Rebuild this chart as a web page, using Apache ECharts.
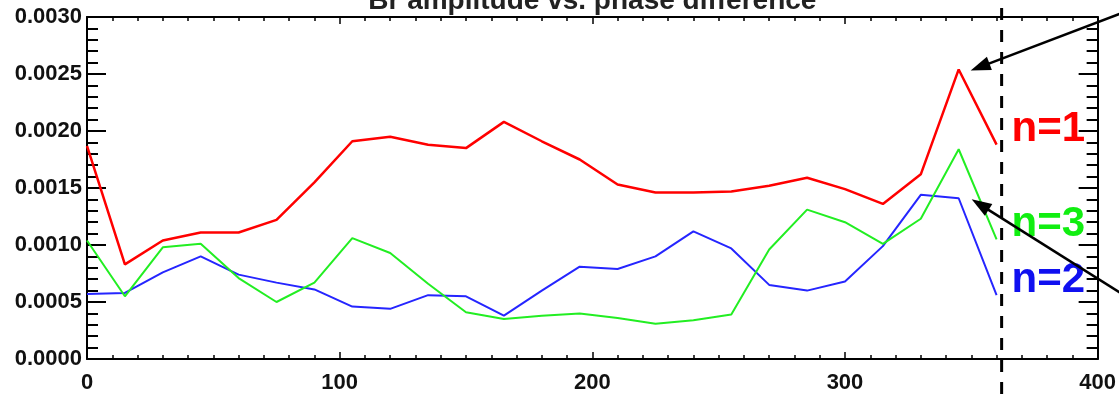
<!DOCTYPE html>
<html>
<head>
<meta charset="utf-8">
<script src="https://cdn.jsdelivr.net/npm/echarts@6/dist/echarts.min.js"></script>
<style>
html,body{margin:0;padding:0;background:#fff;}
#chart{width:1119px;height:394px;}
</style>
</head>
<body>
<div id="chart"></div>
<script>
// Phase difference (degrees)
const phase = [0, 15, 30, 45, 60, 75, 90, 105, 120, 135, 150, 165, 180, 195, 210, 225, 240, 255, 270, 285, 300, 315, 330, 345, 360];
// Br amplitude, n=1
const n1 = [0.00187, 0.00083, 0.00104, 0.00111, 0.00111, 0.00122, 0.00155, 0.00191, 0.00195, 0.00188, 0.00185, 0.00208, 0.00191, 0.00175, 0.00153, 0.00146, 0.00146, 0.00147, 0.00152, 0.00159, 0.00149, 0.00136, 0.00162, 0.00254, 0.00188];
// Br amplitude, n=2
const n2 = [0.00057, 0.00058, 0.00076, 0.00090, 0.00074, 0.00067, 0.00061, 0.00046, 0.00044, 0.00056, 0.00055, 0.00038, 0.00060, 0.00081, 0.00079, 0.00090, 0.00112, 0.00097, 0.00065, 0.00060, 0.00068, 0.00099, 0.00144, 0.00141, 0.00056];
// Br amplitude, n=3
const n3 = [0.00104, 0.00055, 0.00098, 0.00101, 0.00071, 0.00050, 0.00067, 0.00106, 0.00093, 0.00066, 0.00041, 0.00035, 0.00038, 0.00040, 0.00036, 0.00031, 0.00034, 0.00039, 0.00096, 0.00131, 0.00120, 0.00101, 0.00123, 0.00184, 0.00105];
const seriesNames = ['n=1', 'n=2', 'n=3'];
const titleText = 'Br amplitude vs. phase difference';
const dashedX = 362;       // vertical dashed marker (degrees)
const arrowTargetX = 345;  // arrows point at the peaks at 345°

const FONT = '"Liberation Sans", Arial, sans-serif';
const chart = echarts.init(document.getElementById('chart'), null, {renderer: 'canvas'});

function pairs(vals) { return phase.map((p, i) => [p, vals[i]]); }

const axisCommon = {
  axisLine: {show: true, onZero: false, lineStyle: {color: '#000', width: 2}},
  splitLine: {show: false}
};

const xBase = Object.assign({}, axisCommon, {
  type: 'value', min: 0, max: 400, interval: 100,
  axisTick: {show: true, inside: true, length: 7, lineStyle: {color: '#000', width: 1.5}},
  minorTick: {show: true, splitNumber: 10, length: 4, lineStyle: {color: '#000', width: 1.5}}
});
const yBase = Object.assign({}, axisCommon, {
  type: 'value', min: 0, max: 0.003, interval: 0.0005,
  axisTick: {show: true, inside: true, length: 19, lineStyle: {color: '#000', width: 2}},
  minorTick: {show: true, splitNumber: 5, length: 11, lineStyle: {color: '#000', width: 2}}
});

const colors = ['#ff0000', '#2525ff', '#22ee22'];
const labelColors = ['#ff0000', '#1010f0', '#11ee11'];
const widths = [2.5, 2, 2];
const data = [n1, n2, n3];

const option = {
  animation: false,
  backgroundColor: '#fff',
  grid: {left: 87, right: 20, top: 17, bottom: 34, containLabel: false},
  xAxis: [
    Object.assign({}, xBase, {position: 'bottom',
      axisLabel: {show: true, margin: 13, color: '#111', fontSize: 22, fontWeight: 'bold', fontFamily: FONT}}),
    Object.assign({}, xBase, {position: 'top', axisLabel: {show: false}})
  ],
  yAxis: [
    Object.assign({}, yBase, {position: 'left',
      axisLabel: {show: true, margin: 5, color: '#111', fontSize: 22, fontWeight: 'bold', fontFamily: FONT,
        formatter: v => v.toFixed(4)}}),
    Object.assign({}, yBase, {position: 'right', axisLabel: {show: false}})
  ],
  series: data.map((d, i) => ({
    name: seriesNames[i],
    type: 'line',
    xAxisIndex: 0, yAxisIndex: 0,
    data: pairs(d),
    showSymbol: false,
    z: i === 0 ? 3 : 2,
    lineStyle: {color: colors[i], width: widths[i]},
    itemStyle: {color: colors[i]},
    endLabel: {
      show: true, formatter: seriesNames[i], color: labelColors[i],
      fontSize: 42, fontWeight: 'bold', fontFamily: FONT,
      distance: 15, offset: [0, -15]
    }
  }))
};
chart.setOption(option);

// Annotations positioned through the chart's own coordinate conversion
const H = 394, W = 1119;
const dashPx = chart.convertToPixel({xAxisIndex: 0}, dashedX);
const gridLeft = chart.convertToPixel({xAxisIndex: 0}, 0);
const gridRight = chart.convertToPixel({xAxisIndex: 0}, 400);
const peak1 = chart.convertToPixel({xAxisIndex: 0, yAxisIndex: 0}, [arrowTargetX, n1[phase.indexOf(arrowTargetX)]]);
const peak2 = chart.convertToPixel({xAxisIndex: 0, yAxisIndex: 0}, [arrowTargetX, n2[phase.indexOf(arrowTargetX)]]);

function arrow(tip, tail) {
  const dx = tail[0] - tip[0], dy = tail[1] - tip[1];
  const len = Math.sqrt(dx * dx + dy * dy);
  const ux = dx / len, uy = dy / len;
  const hl = 20, hw = 7;
  const bx = tip[0] + ux * hl, by = tip[1] + uy * hl;
  const px = -uy, py = ux;
  return [
    {type: 'line', shape: {x1: bx - ux * 2, y1: by - uy * 2, x2: tail[0], y2: tail[1]},
      style: {stroke: '#000', lineWidth: 2.5}, z: 100},
    {type: 'polygon', shape: {points: [[tip[0], tip[1]], [bx + px * hw, by + py * hw], [bx - px * hw, by - py * hw]]},
      style: {fill: '#000'}, z: 100}
  ];
}

const tip1 = [peak1[0] + 12, peak1[1] + 1];
const tip2 = [peak2[0] + 13, peak2[1] + 1];
// tails run off the right edge of the picture
const tail1 = [W + 20, tip1[1] - (W + 20 - tip1[0]) * 0.38];
const tail2 = [W + 20, tip2[1] + (W + 20 - tip2[0]) * 0.63];

chart.setOption({
  graphic: [
    {type: 'line', shape: {x1: dashPx, y1: 0, x2: dashPx, y2: H},
      style: {stroke: '#000', lineWidth: 3, lineDash: [12, 10], lineDashOffset: -8}, z: 90},
    {type: 'text', x: (gridLeft + gridRight) / 2, y: 1.5, z: 100,
      style: {text: titleText, fill: '#222', font: 'bold 28px ' + FONT, textAlign: 'center', textVerticalAlign: 'middle'}}
  ].concat(arrow(tip1, tail1)).concat(arrow(tip2, tail2))
});
</script>
</body>
</html>
